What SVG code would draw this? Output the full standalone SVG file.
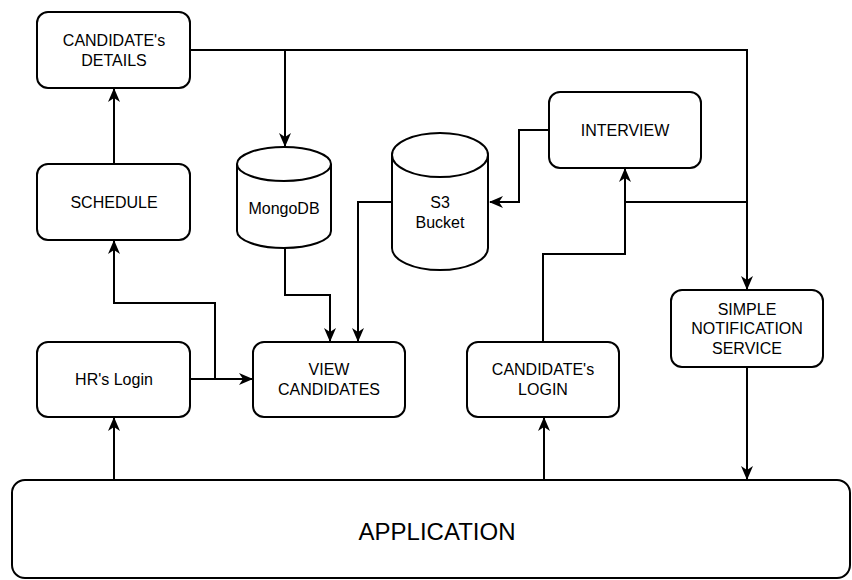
<svg xmlns="http://www.w3.org/2000/svg" width="852" height="580" viewBox="0 0 852 580">
<defs>
<marker id="arr" viewBox="0 0 14 12" refX="13" refY="6" markerWidth="14" markerHeight="12" markerUnits="userSpaceOnUse" orient="auto">
<path d="M0,0 L14,6 L0,12 L4,6 Z" fill="#000"/>
</marker>
<style>
.box{fill:#fff;stroke:#000;stroke-width:2}
.t{font-family:"Liberation Sans",Arial,sans-serif;font-size:16px;fill:#000;text-anchor:middle;dominant-baseline:central}
.c{fill:none;stroke:#000;stroke-width:2}
.a{marker-end:url(#arr)}
</style>
</defs>
<g id="connectors">
<path class="c a" d="M190,50 H747 V289"/>
<path class="c a" d="M285,50 V146"/>
<path class="c a" d="M114,164 V89"/>
<path class="c a" d="M215,379 V303 H114 V241"/>
<path class="c a" d="M190,379 H252"/>
<path class="c a" d="M285,248 V295 H330 V341"/>
<path class="c a" d="M391,202 H358 V341"/>
<path class="c a" d="M549,130 H519 V202 H490"/>
<path class="c a" d="M543,342 V254 H625 V169"/>
<path class="c" d="M625,202 H747"/>
<path class="c a" d="M114,480 V418"/>
<path class="c a" d="M544,480 V418"/>
<path class="c a" d="M747,367 V479"/>
</g>
<g id="candidate-details"><rect class="box" x="37" y="12" width="153" height="76" rx="11"/><text class="t" x="114" y="40">CANDIDATE's</text><text class="t" x="114" y="60">DETAILS</text></g>
<g id="schedule"><rect class="box" x="37" y="164" width="153" height="76" rx="11"/><text class="t" x="114" y="202">SCHEDULE</text></g>
<g id="mongodb"><path class="box" d="M237,164 A47,17 0 0 1 331,164 V231 A47,17 0 0 1 237,231 Z"/><path class="c" d="M237,164 A47,17 0 0 0 331,164"/><text class="t" x="284" y="208">MongoDB</text></g>
<g id="s3-bucket"><path class="box" d="M392,155 A48,22 0 0 1 488,155 V248 A48,22 0 0 1 392,248 Z"/><path class="c" d="M392,155 A48,22 0 0 0 488,155"/><text class="t" x="440" y="202">S3</text><text class="t" x="440" y="222">Bucket</text></g>
<g id="interview"><rect class="box" x="549" y="92" width="152" height="76" rx="11"/><text class="t" x="625" y="130">INTERVIEW</text></g>
<g id="hr-login"><rect class="box" x="37" y="342" width="153" height="75" rx="11"/><text class="t" x="114" y="379">HR's Login</text></g>
<g id="view-candidates"><rect class="box" x="253" y="342" width="152" height="75" rx="11"/><text class="t" x="329" y="369">VIEW</text><text class="t" x="329" y="389">CANDIDATES</text></g>
<g id="candidate-login"><rect class="box" x="467" y="342" width="152" height="75" rx="11"/><text class="t" x="543" y="369">CANDIDATE's</text><text class="t" x="543" y="389">LOGIN</text></g>
<g id="sns"><rect class="box" x="671" y="290" width="152" height="77" rx="11"/><text class="t" x="747" y="309">SIMPLE</text><text class="t" x="747" y="328">NOTIFICATION</text><text class="t" x="747" y="348">SERVICE</text></g>
<g id="application"><rect class="box" x="12" y="480" width="838" height="98" rx="13"/><text class="t" x="437" y="531" style="font-size:24px">APPLICATION</text></g>
</svg>
